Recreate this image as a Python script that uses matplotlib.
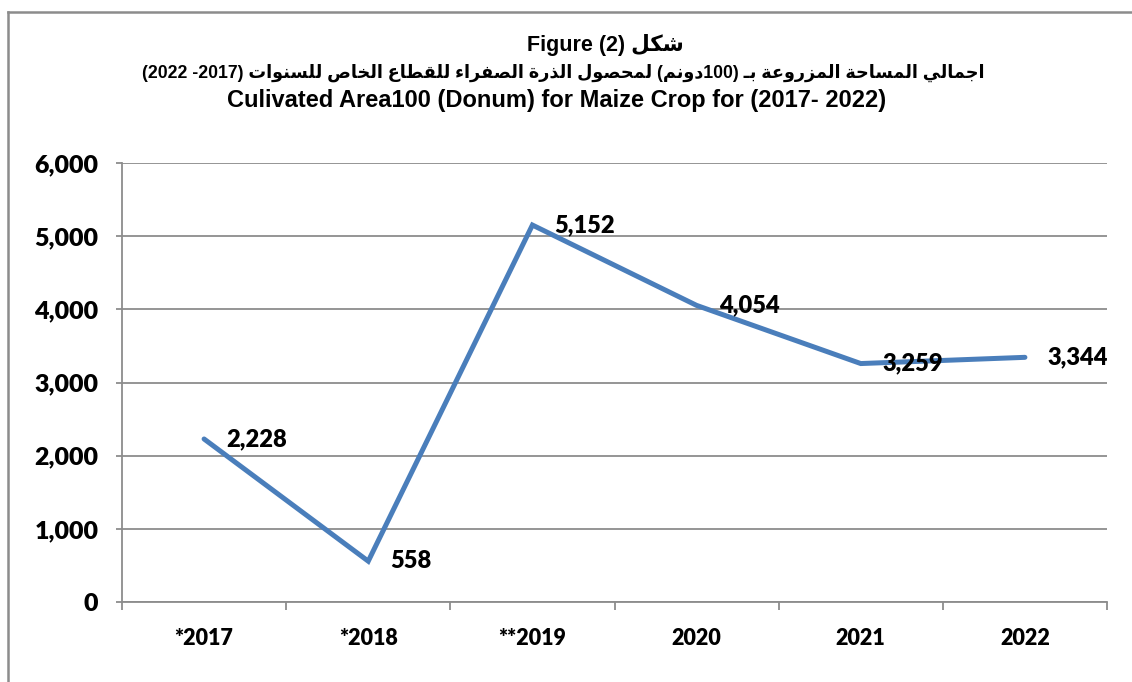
import re
import matplotlib
matplotlib.use('Agg')
import matplotlib.pyplot as plt
from matplotlib.lines import Line2D
from matplotlib.ticker import FuncFormatter

# data
years = ['*2017', '*2018', '**2019', '2020', '2021', '2022']
area = [2228, 558, 5152, 4054, 3259, 3344]
y_ticks = [0, 1000, 2000, 3000, 4000, 5000, 6000]

title_ar_1 = 'شكل (2) Figure'
title_ar_2 = 'اجمالي المساحة المزروعة بـ (100دونم) لمحصول الذرة الصفراء للقطاع الخاص للسنوات (2017- 2022)'
title_en = 'Culivated Area100 (Donum) for Maize Crop for (2017- 2022)'

LINE_COLOR = '#4A7EBB'
GRID_COLOR = '#8C8C8C'

# arabic presentation forms: isolated, final, initial, medial
FORMS = {
    'ء': (0xFE80, None, None, None),
    'ا': (0xFE8D, 0xFE8E, None, None),
    'ب': (0xFE8F, 0xFE90, 0xFE91, 0xFE92),
    'ة': (0xFE93, 0xFE94, None, None),
    'ت': (0xFE95, 0xFE96, 0xFE97, 0xFE98),
    'ج': (0xFE9D, 0xFE9E, 0xFE9F, 0xFEA0),
    'ح': (0xFEA1, 0xFEA2, 0xFEA3, 0xFEA4),
    'خ': (0xFEA5, 0xFEA6, 0xFEA7, 0xFEA8),
    'د': (0xFEA9, 0xFEAA, None, None),
    'ذ': (0xFEAB, 0xFEAC, None, None),
    'ر': (0xFEAD, 0xFEAE, None, None),
    'ز': (0xFEAF, 0xFEB0, None, None),
    'س': (0xFEB1, 0xFEB2, 0xFEB3, 0xFEB4),
    'ش': (0xFEB5, 0xFEB6, 0xFEB7, 0xFEB8),
    'ص': (0xFEB9, 0xFEBA, 0xFEBB, 0xFEBC),
    'ط': (0xFEC1, 0xFEC2, 0xFEC3, 0xFEC4),
    'ع': (0xFEC9, 0xFECA, 0xFECB, 0xFECC),
    'ف': (0xFED1, 0xFED2, 0xFED3, 0xFED4),
    'ق': (0xFED5, 0xFED6, 0xFED7, 0xFED8),
    'ك': (0xFED9, 0xFEDA, 0xFEDB, 0xFEDC),
    'ل': (0xFEDD, 0xFEDE, 0xFEDF, 0xFEE0),
    'م': (0xFEE1, 0xFEE2, 0xFEE3, 0xFEE4),
    'ن': (0xFEE5, 0xFEE6, 0xFEE7, 0xFEE8),
    'ه': (0xFEE9, 0xFEEA, 0xFEEB, 0xFEEC),
    'و': (0xFEED, 0xFEEE, None, None),
    'ي': (0xFEF1, 0xFEF2, 0xFEF3, 0xFEF4),
    'ـ': (0x0640, 0x0640, 0x0640, 0x0640),
}
MIRROR = {'(': ')', ')': '('}


def shape(word):
    out = []
    for i, ch in enumerate(word):
        f = FORMS.get(ch)
        if f is None:
            out.append(ch)
            continue
        prev = FORMS.get(word[i - 1]) if i > 0 else None
        nxt = FORMS.get(word[i + 1]) if i + 1 < len(word) else None
        j_prev = prev is not None and prev[2] is not None and f[1] is not None
        j_next = nxt is not None and nxt[1] is not None and f[2] is not None
        if j_prev and j_next:
            out.append(chr(f[3]))
        elif j_prev:
            out.append(chr(f[1]))
        elif j_next:
            out.append(chr(f[2]))
        else:
            out.append(chr(f[0]))
    return ''.join(out)


def rtl_visual(text):
    # right-to-left paragraph -> left-to-right drawing order
    words = []
    for w in reversed(text.split(' ')):
        tokens = re.findall(r'[\u0600-\u06FF]+|[0-9A-Za-z]+|.', w)
        vis = []
        for t in reversed(tokens):
            if re.match(r'[\u0600-\u06FF]', t):
                vis.append(shape(t)[::-1])
            else:
                vis.append(MIRROR.get(t, t))
        words.append(''.join(vis))
    return ' '.join(words)


fig = plt.figure(figsize=(11.32, 6.82), dpi=100)
ax = fig.add_axes([122 / 1132, 1 - 602 / 682, (1107 - 122) / 1132, (602 - 163) / 682])

x = list(range(len(years)))
ax.plot(x, area, color=LINE_COLOR, lw=3.6, solid_capstyle='round', solid_joinstyle='miter', zorder=3)

lato = ['Lato', 'DejaVu Sans']
for xi, v in zip(x, area):
    ax.annotate(f'{v:,}', (xi, v), xytext=(16, 0), textcoords='offset points',
                ha='left', va='center', family=lato, weight=800, size=17, zorder=4)

ax.set_xlim(-0.5, len(years) - 0.5)
ax.set_ylim(0, 6000)
ax.set_yticks(y_ticks)
ax.yaxis.set_major_formatter(FuncFormatter(lambda v, p: f'{int(v):,}'))
ax.grid(axis='y', color=GRID_COLOR, lw=1.3)
ax.set_axisbelow(True)

ax.set_xticks([i - 0.5 for i in range(len(years) + 1)])
ax.set_xticklabels([])
ax.set_xticks(x, minor=True)
ax.set_xticklabels(years, minor=True, family=lato, weight=800, size=15.5)
ax.tick_params(axis='x', which='major', direction='out', length=6, width=1.3, color=GRID_COLOR)
ax.tick_params(axis='x', which='minor', length=0, pad=19)
ax.tick_params(axis='y', direction='out', length=4, width=1.3, color=GRID_COLOR, pad=13)
for t in ax.get_yticklabels():
    t.set_fontfamily(lato)
    t.set_fontweight(800)
    t.set_fontsize(18)

for s in ['top', 'right']:
    ax.spines[s].set_visible(False)
for s in ['left', 'bottom']:
    ax.spines[s].set_color(GRID_COLOR)
    ax.spines[s].set_linewidth(1.3)

# chart border
fx0 = 8 / 1132
fy1 = 1 - 12 / 682
fig.add_artist(Line2D([fx0, fx0], [0, fy1], color='#8C8C8C', lw=1.8))
fig.add_artist(Line2D([fx0, 1], [fy1, fy1], color='#8C8C8C', lw=1.8))

title_family = ['Liberation Sans', 'DejaVu Sans']
fig.text(605 / 1132, 1 - 45 / 682, rtl_visual(title_ar_1), ha='center', va='center',
         family=title_family, weight='bold', size=15.5)
fig.text(563 / 1132, 1 - 73 / 682, rtl_visual(title_ar_2), ha='center', va='center',
         family=title_family, weight='bold', size=12.7)
fig.text(557 / 1132, 1 - 101 / 682, title_en, ha='center', va='center',
         family=title_family, weight='bold', size=17)

fig.savefig('out.png', dpi=100)
